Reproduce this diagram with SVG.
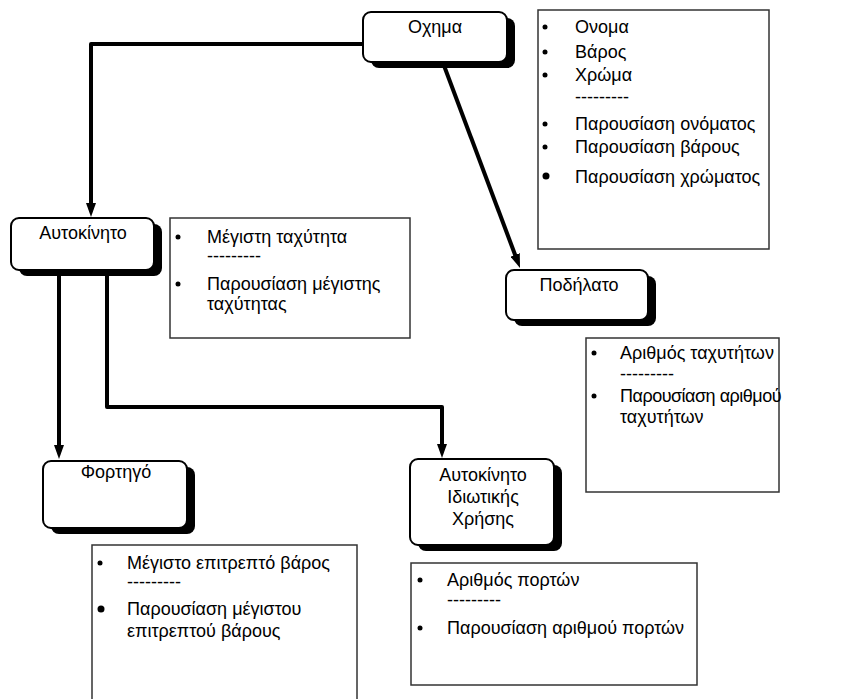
<svg xmlns="http://www.w3.org/2000/svg" width="864" height="699" viewBox="0 0 864 699">
  <style>
    text { font-family: "Liberation Sans", Arial, sans-serif; font-size: 18px; fill: #000; }
    .title { text-anchor: middle; }
    .tight { letter-spacing: -0.5px; }
    .node { fill: #fff; stroke: #000; stroke-width: 2; }
    .shadow { fill: #000; }
    .list { fill: #fff; stroke: #333; stroke-width: 1.5; }
    .wire { fill: none; stroke: #000; stroke-width: 4; stroke-linejoin: round; marker-end: url(#arrow); }
    .dot { fill: #000; }
  </style>
  <defs>
    <marker id="arrow" viewBox="0 0 14 10" markerWidth="14" markerHeight="10" refX="4" refY="5" orient="auto" markerUnits="userSpaceOnUse">
      <path d="M0,0 L14,5 L0,10 Z" fill="#000"/>
    </marker>
  </defs>

  <rect width="864" height="699" fill="#fff"/>

  <!-- inheritance connectors -->
  <g id="connectors">
    <path class="wire" d="M364,44 H91 V207"/>
    <path class="wire" d="M443,63 L516.5,258.6"/>
    <path class="wire" d="M59,270 V449"/>
    <path class="wire" d="M107,270 V407 H442 V448"/>
  </g>

  <!-- class nodes -->
  <g id="node-oxima">
    <rect class="shadow" x="371" y="18" width="144" height="50" rx="8"/>
    <rect class="node" x="363" y="12" width="144" height="50" rx="8"/>
    <text class="title" x="435" y="33">Οχημα</text>
  </g>
  <g id="node-aftokinito">
    <rect class="shadow" x="19" y="224" width="143" height="52" rx="8"/>
    <rect class="node" x="11" y="218" width="143" height="52" rx="8"/>
    <text class="title" x="83" y="239">Αυτοκίνητο</text>
  </g>
  <g id="node-podilato">
    <rect class="shadow" x="514" y="276" width="142" height="50" rx="8"/>
    <rect class="node" x="506" y="270" width="142" height="50" rx="8"/>
    <text class="title" x="579" y="291">Ποδήλατο</text>
  </g>
  <g id="node-fortigo">
    <rect class="shadow" x="51" y="467" width="144" height="67" rx="8"/>
    <rect class="node" x="43" y="461" width="144" height="67" rx="8"/>
    <text class="title" x="116" y="478">Φορτηγό</text>
  </g>
  <g id="node-idiotiki-xrisi">
    <rect class="shadow" x="418" y="465" width="144" height="86" rx="8"/>
    <rect class="node" x="410" y="459" width="144" height="86" rx="8"/>
    <text class="title" x="483" y="481">Αυτοκίνητο</text>
    <text class="title" x="483" y="503">Ιδιωτικής</text>
    <text class="title" x="483" y="525">Χρήσης</text>
  </g>

  <!-- member lists -->
  <g id="members-oxima">
    <rect class="list" x="538" y="10" width="231" height="239"/>
    <circle class="dot" cx="545" cy="27" r="2.5"/>
    <text x="575" y="33">Ονομα</text>
    <circle class="dot" cx="545" cy="52" r="2.5"/>
    <text x="575" y="58">Βάρος</text>
    <circle class="dot" cx="545" cy="75" r="2.5"/>
    <text x="575" y="81">Χρώμα</text>
    <text x="575" y="103">---------</text>
    <circle class="dot" cx="545" cy="124" r="2.5"/>
    <text x="575" y="130">Παρουσίαση ονόματος</text>
    <circle class="dot" cx="545" cy="147" r="2.5"/>
    <text x="575" y="153">Παρουσίαση βάρους</text>
    <circle class="dot" cx="546" cy="176" r="3.5"/>
    <text x="575" y="183">Παρουσίαση χρώματος</text>
  </g>
  <g id="members-aftokinito">
    <rect class="list" x="170" y="218" width="240" height="120"/>
    <circle class="dot" cx="178" cy="237" r="2.5"/>
    <text x="207" y="243">Μέγιστη ταχύτητα</text>
    <text x="207" y="262">---------</text>
    <circle class="dot" cx="178" cy="284" r="2.5"/>
    <text x="207" y="290">Παρουσίαση μέγιστης</text>
    <text x="207" y="310">ταχύτητας</text>
  </g>
  <g id="members-podilato">
    <rect class="list" x="586" y="338" width="193" height="154"/>
    <circle class="dot" cx="594" cy="353" r="2.5"/>
    <text x="620" y="359">Αριθμός ταχυτήτων</text>
    <text x="620" y="380">---------</text>
    <circle class="dot" cx="594" cy="396" r="2.5"/>
    <text class="tight" x="620" y="402">Παρουσίαση αριθμού</text>
    <text x="620" y="423">ταχυτήτων</text>
  </g>
  <g id="members-fortigo">
    <rect class="list" x="92" y="545" width="265" height="160"/>
    <circle class="dot" cx="100" cy="563" r="2.5"/>
    <text x="127" y="569">Μέγιστο επιτρεπτό βάρος</text>
    <text x="127" y="588">---------</text>
    <circle class="dot" cx="101" cy="609" r="3.5"/>
    <text x="127" y="615">Παρουσίαση μέγιστου</text>
    <text x="127" y="637">επιτρεπτού βάρους</text>
  </g>
  <g id="members-idiotiki-xrisi">
    <rect class="list" x="411" y="563" width="286" height="122"/>
    <circle class="dot" cx="420" cy="580" r="2.5"/>
    <text x="447" y="586">Αριθμός πορτών</text>
    <text x="447" y="606">---------</text>
    <circle class="dot" cx="420" cy="628" r="2.5"/>
    <text x="447" y="634">Παρουσίαση αριθμού πορτών</text>
  </g>
</svg>
